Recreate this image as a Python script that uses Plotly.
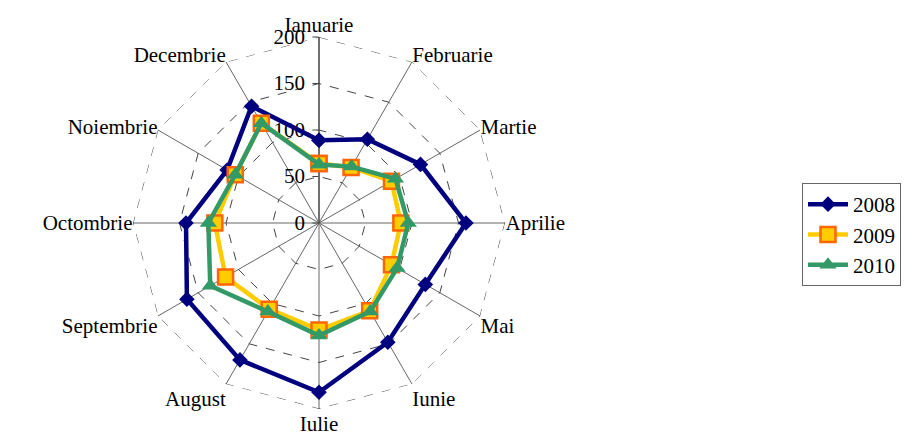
import plotly.graph_objects as go

months = ["Ianuarie", "Februarie", "Martie", "Aprilie", "Mai", "Iunie",
          "Iulie", "August", "Septembrie", "Octombrie", "Noiembrie", "Decembrie"]
v2008 = [89, 104, 126, 158, 132, 148, 182, 170, 164, 143, 114, 145]
v2009 = [64, 69, 90, 88, 90, 109, 115, 107, 116, 112, 104, 124]
v2010 = [63, 70, 95, 96, 97, 110, 121, 110, 135, 119, 104, 124]
radial_ticks = [0, 50, 100, 150, 200]

FONT = "Liberation Serif, Times New Roman, serif"

def closed(v):
    return v + v[:1]

theta = closed(months)
rmax = radial_ticks[-1]

fig = go.Figure()
# outer dashed gridline at the axis maximum
fig.add_trace(go.Scatterpolar(
    r=closed([rmax] * len(months)), theta=theta, mode="lines",
    line=dict(color="#444444", width=1, dash="dash"),
    showlegend=False, hoverinfo="skip",
))
fig.add_trace(go.Scatterpolar(
    r=closed(v2008), theta=theta, name="2008", mode="lines+markers",
    line=dict(color="#00007F", width=4.5),
    marker=dict(symbol="diamond", size=12, color="#00007F"),
))
fig.add_trace(go.Scatterpolar(
    r=closed(v2009), theta=theta, name="2009", mode="lines+markers",
    line=dict(color="#FFCC00", width=4.5),
    marker=dict(symbol="square", size=15, color="#FFCC00",
                line=dict(color="#FF6600", width=2.5)),
))
fig.add_trace(go.Scatterpolar(
    r=closed(v2010), theta=theta, name="2010", mode="lines+markers",
    line=dict(color="#339966", width=4.5),
    marker=dict(symbol="triangle-up", size=15, color="#339966"),
))

# the page body has an 8px default margin; size the figure to fit the window
OFF = 8
W, H = 919 - OFF, 437 - OFF
R = 186
cx, cy = 319 - OFF, 223 - OFF
fig.update_layout(
    width=W, height=H,
    margin=dict(l=0, r=0, t=0, b=0),
    paper_bgcolor="white",
    font=dict(family=FONT, size=21, color="black"),
    polar=dict(
        domain=dict(x=[(cx - R) / W, (cx + R) / W],
                    y=[(H - cy - R) / H, (H - cy + R) / H]),
        bgcolor="white",
        gridshape="linear",
        radialaxis=dict(
            range=[0, rmax], tickvals=radial_ticks, angle=90,
            side="counterclockwise", tickangle=90,
            showline=True, linecolor="#444444", linewidth=1.2,
            ticks="outside", ticklen=6, tickcolor="#444444",
            gridcolor="#444444", griddash="dash", gridwidth=1,
            tickfont=dict(family=FONT, size=21, color="black"),
            layer="below traces",
        ),
        angularaxis=dict(
            direction="clockwise", rotation=90,
            categoryarray=months, categoryorder="array",
            showline=False, ticks="",
            gridcolor="#666666", gridwidth=1,
            tickfont=dict(family=FONT, size=21, color="black"),
            layer="below traces",
        ),
    ),
    legend=dict(
        x=(802 - OFF) / W, y=1 - (183 - OFF) / H, xanchor="left", yanchor="top",
        bordercolor="#666666", borderwidth=1,
        font=dict(family=FONT, size=21, color="black"),
        itemwidth=40, tracegroupgap=0,
    ),
)

fig.write_html("out.html")
